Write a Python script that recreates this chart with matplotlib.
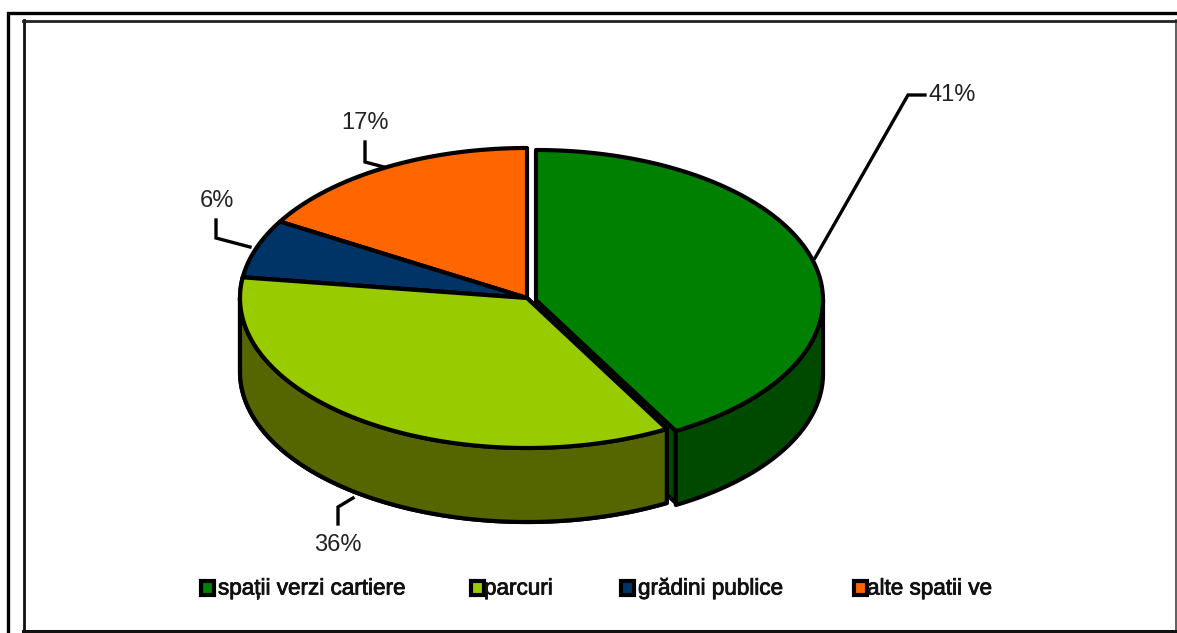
import numpy as np
import matplotlib
matplotlib.use('Agg')
import matplotlib.pyplot as plt
from matplotlib.patches import Polygon, Rectangle
import matplotlib.patheffects as pe

plt.rcParams['font.family'] = ['Liberation Sans', 'DejaVu Sans']

categories = ['spații verzi cartiere', 'parcuri', 'grădini publice', 'alte spatii ve']
shares = [41.9, 35.3, 6.3, 16.5]
pct_labels = ['41%', '36%', '6%', '17%']
top_colors = ['#008000', '#99cc00', '#003366', '#ff6600']
side_colors = ['#004a00', '#556600', '#001f3d', '#993d00']

W, H = 1177, 633
CX, CY = 527, 298
RX, RY = 287, 150
DEPTH = 74
EDGE = 3.0

fig = plt.figure(figsize=(W / 100, H / 100), dpi=100)
ax = fig.add_axes([0, 0, 1, 1])
ax.set_xlim(0, W)
ax.set_ylim(H, 0)
ax.axis('off')

# page frame runs off the top right, chart frame inside it
ax.plot([7.5, 7.5, W], [H, 12.5, 12.5], color='black', lw=2.4, solid_joinstyle='miter')
ax.plot([W - 1, W - 1], [20, H], color='#444444', lw=1.2)
ax.plot([23.5, 23.5], [20, 631], color='#111111', lw=2)
ax.plot([23, W], [21, 21], color='#222222', lw=2)
ax.plot([23, W], [631, 631], color='#111111', lw=2.2)


def arc(t0, t1, cx, cy, n=120):
    # angles are clockwise from 12 o'clock, in degrees
    t = np.radians(np.linspace(t0, t1, n))
    return np.column_stack([cx + RX * np.sin(t), cy - RY * np.cos(t)])


def draw_slice(t0, t1, color, side, cx, cy):
    if t1 > 90 and t0 < 270:
        a = arc(max(t0, 90), min(t1, 270), cx, cy)
        wall = np.vstack([a, (a + [0, DEPTH])[::-1]])
        ax.add_patch(Polygon(wall, fc=side, ec='black', lw=EDGE, joinstyle='round'))
    top = np.vstack([[cx, cy], arc(t0, t1, cx, cy), [cx, cy]])
    ax.add_patch(Polygon(top, fc=color, ec='black', lw=EDGE, joinstyle='round'))


bounds = np.cumsum([0] + shares) * 3.6
offsets = [(9, 2), (0, 0), (0, 0), (0, 0)]

# cut face of the pulled out slice goes first, the neighbour covers most of it
tip = arc(bounds[1], bounds[1], CX + offsets[0][0], CY + offsets[0][1], 1)[0]
c0 = np.array([CX + offsets[0][0], CY + offsets[0][1]])
ax.add_patch(Polygon([c0, tip, tip + [0, DEPTH - 2], c0 + [0, DEPTH - 2]],
                     fc=side_colors[0], ec='black', lw=EDGE, joinstyle='round'))

for i in [3, 2, 1, 0]:
    draw_slice(bounds[i], bounds[i + 1], top_colors[i], side_colors[i],
               CX + offsets[i][0], CY + offsets[i][1])
# light green over the cut face
draw_slice(bounds[1], bounds[2], top_colors[1], side_colors[1], CX, CY)

# leader lines and percent labels
leaders = [[(815, 258), (908, 95), (925, 95)],
           [(338, 524), (338, 507), (353, 498)],
           [(216, 220), (216, 238), (250, 247)],
           [(365, 142), (365, 162), (384, 167)]]
label_pos = [(952, 95), (338, 545), (217, 201), (365, 123)]
for pts, pos, lab in zip(leaders, label_pos, pct_labels):
    xs, ys = zip(*pts)
    ax.plot(xs, ys, color='black', lw=2.4, solid_joinstyle='miter')
    ax.text(pos[0], pos[1], lab, ha='center', va='center', fontsize=17, color='#222222')

# legend
key_x = [200, 470, 620, 853]
text_x = [218, 484, 638, 867]
for x, tx, name, color in zip(key_x, text_x, categories, top_colors):
    ax.add_patch(Rectangle((x + 1, 581), 13, 14, fc=color, ec='black', lw=3))
    ax.text(tx, 589, name, ha='left', va='center', fontsize=16.2, color='#111111',
            path_effects=[pe.withStroke(linewidth=0.6, foreground='#111111')])

fig.savefig('out.png', dpi=100)
